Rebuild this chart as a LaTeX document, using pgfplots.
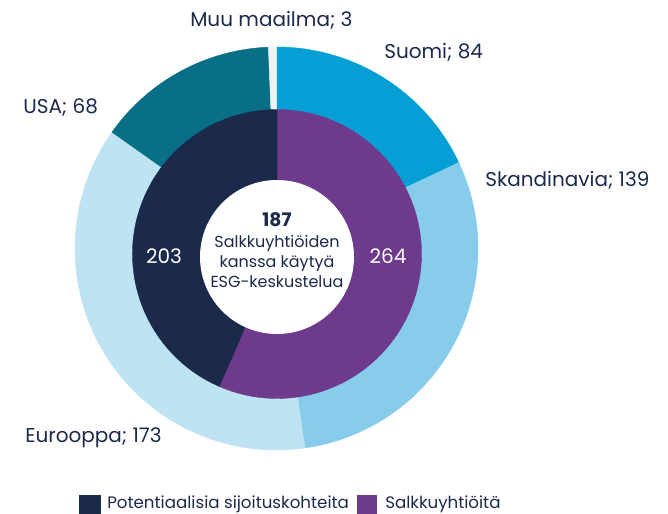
\documentclass[border=0pt]{standalone}
\usepackage{pgfplots}
\pgfplotsset{compat=1.18}
\usepackage{fontspec}
\setmainfont{Poppins}
\definecolor{txt}{HTML}{1B2A4A}
\definecolor{navy}{HTML}{1B2A4A}
\definecolor{purp}{HTML}{6E3A8C}
\definecolor{suomi}{HTML}{059FD6}
\definecolor{skand}{HTML}{87CDEB}
\definecolor{euro}{HTML}{BEE3F2}
\definecolor{usa}{HTML}{086F86}
\definecolor{muu}{HTML}{EEF2F1}
% wedge: {cx}{cy}{R}{cumulative start}{value}{total}{colour}
\newcommand{\wedgeplot}[7]{%
  \fill[#7, draw=#7, line width=0.3pt] (#1,#2) -- ({#1+#3*cos(90-(#4/#6)*360)},{#2+#3*sin(90-(#4/#6)*360)})
    arc[start angle={90-(#4/#6)*360}, end angle={90-((#4+#5)/#6)*360}, radius={#3*0.75pt}] -- cycle;}
\begin{document}
\begin{tikzpicture}
\useasboundingbox (0,0) rectangle (501pt,385.5pt);
\begin{axis}[at={(0,0)}, anchor=origin, x=0.75pt, y=0.75pt, xmin=0, xmax=668, ymin=0, ymax=514,
  hide axis, clip=false, scale only axis, disabledatascaling]
% outer ring: Suomi 84, Skandinavia 139, Eurooppa 173, USA 68, Muu maailma 3 (total 467)
\wedgeplot{276.5}{265.5}{201.5}{0}{84}{467}{suomi}
\wedgeplot{276.5}{265.5}{201.5}{84}{139}{467}{skand}
\wedgeplot{276.5}{265.5}{201.5}{223}{173}{467}{euro}
\wedgeplot{276.5}{265.5}{201.5}{396}{68}{467}{usa}
\wedgeplot{276.5}{265.5}{201.5}{464}{3}{467}{muu}
% inner ring: Salkkuyhtiöitä 264, Potentiaalisia 203
\wedgeplot{277}{260}{144.5}{0}{264}{467}{purp}
\wedgeplot{277}{260}{144.5}{264}{203}{467}{navy}
\fill[white] (354,257) arc[start angle=0, end angle=360, radius=57.75pt] -- cycle;
% labels
\begin{scope}[every node/.style={font=\fontsize{15}{18}\selectfont, text=txt, inner sep=0pt}]
\node[anchor=base west] at (190,487) {Muu maailma; 3};
\node[anchor=base west] at (384,455) {Suomi; 84};
\node[anchor=base west] at (23,400) {USA; 68};
\node[anchor=base west] at (485,327) {Skandinavia; 139};
\node[anchor=base west] at (25,71) {Eurooppa; 173};
\node[anchor=base, text=white] at (164,250) {203};
\node[anchor=base, text=white] at (388,250) {264};
\end{scope}
\begin{scope}[every node/.style={font=\fontsize{12}{14}\selectfont, text=txt, inner sep=0pt, anchor=base}]
\node[font=\fontsize{14}{16}\selectfont\bfseries] at (277,287) {187};
\node at (277,266) {Salkkuyhtiöiden};
\node at (277,246) {kanssa käytyä};
\node at (277,226) {ESG-keskustelua};
\end{scope}
% legend
\fill[navy] (79,19) rectangle (101,-3);
\fill[purp] (357,19) rectangle (377,-3);
\node[font=\fontsize{12.5}{14}\selectfont, text=txt, inner sep=0pt, anchor=base west] at (107,5) {Potentiaalisia sijoituskohteita};
\node[font=\fontsize{12.5}{14}\selectfont, text=txt, inner sep=0pt, anchor=base west] at (385,5) {Salkkuyhtiöitä};
\end{axis}
\end{tikzpicture}
\end{document}
